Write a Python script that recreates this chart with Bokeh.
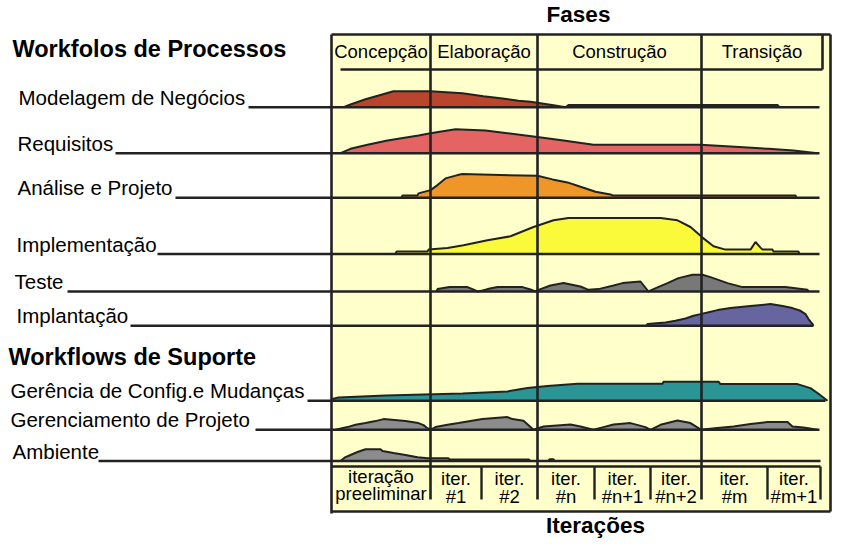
from bokeh.plotting import figure
from bokeh.models import Range1d
from bokeh.core.properties import value
from bokeh.embed import file_html
from bokeh.resources import INLINE

# ------------------------------------------------------------------ data
title_top = "Fases"
title_bottom = "Iterações"
header_process = "Workfolos de Processos"
header_support = "Workflows de Suporte"

phase_names = ["Concepção", "Elaboração", "Construção", "Transição"]
phase_bounds = [331, 430, 537, 701, 830]          # time axis

iter_line1 = ["iteração", "iter.", "iter.", "iter.", "iter.", "iter.", "iter.", "iter."]
iter_line2 = ["preeliminar", "#1", "#2", "#n", "#n+1", "#n+2", "#m", "#m+1"]
iter_bounds = [331, 430, 481, 537, 594, 650, 701, 767, 820]

workflow_names = ["Modelagem de Negócios", "Requisitos", "Análise e Projeto",
                  "Implementação", "Teste", "Implantação",
                  "Gerência de Config.e Mudanças", "Gerenciamento de Projeto", "Ambiente"]

modelagem_t = [343, 350, 365, 393, 430, 462, 483, 500, 518, 530, 553, 565, 568, 777, 779]
modelagem_h = [0, 2.7, 8, 16, 16, 14, 11, 9, 6.4, 5.4, 2, 0, 2.2, 2.2, 0]

requisitos_t = [340, 350, 367, 387, 418, 430, 455, 485, 507, 533, 563, 593, 700, 743, 768, 793, 817]
requisitos_h = [0, 4.4, 8.4, 12.7, 17.7, 20, 24, 22.7, 20, 16.7, 12.7, 8.4, 8.4, 6, 4.4, 2.7, 0]

analise_t = [401, 402, 417, 418, 430, 437, 445, 457, 462, 537, 552, 567, 580, 595, 610, 612, 795, 796]
analise_h = [0, 2.4, 2.4, 4.4, 7.7, 12.7, 19.4, 22.7, 23.7, 22, 18.4, 15.4, 11, 6, 3.4, 2.4, 2.4, 0]

implementacao_t = [395, 396, 427, 428, 447, 463, 487, 510, 533, 553, 568, 660, 677, 690, 702,
                   713, 725, 750, 755, 760, 762, 772, 773, 798, 799]
implementacao_h = [0, 2.4, 2.4, 4.4, 6, 8.7, 13.7, 17.7, 27, 33.7, 36, 36, 33.7, 27, 16.4,
                   7.7, 4.4, 4.4, 12, 6.4, 4.4, 4.4, 2.4, 2.4, 0]

teste_t = [436, 437, 449, 467, 472, 477, 482, 487, 497, 522, 530, 535, 540, 550, 563, 580, 588,
           598, 613, 622, 640, 648, 653, 667, 678, 692, 702, 710, 727, 742, 785, 807, 808]
teste_h = [0, 2.4, 4.4, 4.4, 2.4, 0, 1, 2.4, 4.4, 4.4, 2, 0, 2.4, 6, 8.4, 5, 1.7,
           2.4, 6, 8.4, 10, 0, 2.4, 8.4, 13.4, 16.7, 16.7, 14.4, 8.4, 4.4, 4.4, 1.7, 0]

implantacao_t = [646, 647, 665, 675, 685, 693, 700, 707, 717, 730, 750, 770, 782, 792, 800, 805, 808, 812, 813]
implantacao_h = [0, 1.7, 3.3, 5, 7.3, 10, 11.7, 13.3, 15.7, 17.7, 19.7, 21.7, 19.7, 17.7, 15, 11.7, 6.7, 1.7, 0]

gerencia_t = [331, 332, 338, 385, 462, 507, 527, 547, 577, 662, 663, 718, 720, 797, 810, 818, 827]
gerencia_h = [0, 1.7, 3.3, 5.3, 7.3, 9.3, 12.6, 14.6, 17, 17, 19, 19, 16.6, 16.6, 12.6, 7, 0]

gerenciamento_t = [335, 347, 355, 365, 375, 383, 405, 418, 423, 426, 430, 435, 447, 458, 470, 482,
                   507, 512, 523, 533, 543, 570, 580, 593, 603, 613, 630, 645, 650, 660, 677, 690,
                   698, 700, 717, 733, 750, 767, 787, 792, 803, 817]
gerenciamento_h = [0, 2.7, 5, 6.7, 8.7, 10.7, 8.7, 6.7, 4.7, 2.3, 0, 2.7, 5, 6.7, 8.7, 10.7,
                   12.7, 10.7, 9, 0, 3.3, 5.3, 3.3, 0, 2.7, 5.3, 6.7, 2.7, 0, 5, 9.3, 6.7,
                   1.7, 0, 1.7, 3.3, 5.7, 7.7, 7.7, 3.3, 2.3, 0]

ambiente_t = [340, 344, 350, 357, 365, 380, 382, 393, 405, 417, 427, 448, 449, 528, 530, 548, 549, 553, 554]
ambiente_h = [0, 3.3, 6, 9, 11.7, 11.7, 10, 8, 6, 3.7, 2.7, 2.7, 1.6, 1.6, 0, 0, 1.8, 1.8, 0]

workflow_t = [modelagem_t, requisitos_t, analise_t, implementacao_t, teste_t,
              implantacao_t, gerencia_t, gerenciamento_t, ambiente_t]
workflow_h = [modelagem_h, requisitos_h, analise_h, implementacao_h, teste_h,
              implantacao_h, gerencia_h, gerenciamento_h, ambiente_h]

# ------------------------------------------------------------------ style / layout
colors = ["#B8452C", "#E46464", "#EF9629", "#FAFA3A", "#787878",
          "#66659F", "#2B9494", "#8C8C8C", "#8C8C8C"]
row_y = [106.7, 152.7, 197.3, 253.5, 291.0, 325.3, 400.2, 429.3, 460.5]
label_x = [18, 17, 17, 16, 14, 16, 10, 10, 12]
under_x0 = [248, 115, 175, 157, 67, 130, 307, 255, 98]
under_x1 = [819, 819, 819, 819, 819, 813, 825, 819, 820]

INK = "#222222"
PAPER = "#FFFFCC"
FONT = value("Liberation Sans")
SHIFT = 0.36   # em fraction: lift text so its baseline sits where the reference has it

BOX_TOP, BOX_BOTTOM = 34, 511
HEAD_BOTTOM, HEAD_RIGHT = 69, 822
ITER_TOP, ITER_SEP_BOTTOM = 466, 499

W, H = 857, 553
p = figure(width=W, height=H, x_range=Range1d(0, W), y_range=Range1d(H, 0),
           output_backend="svg", toolbar_location=None, min_border=0,
           x_axis_location=None, y_axis_location=None)
p.xgrid.visible = False
p.ygrid.visible = False
p.outline_line_color = None
p.background_fill_color = "white"
p.border_fill_color = "white"


def txt(xs, ys, texts, size, bold=False, align="left"):
    p.text(x=xs, y=[y - SHIFT * size for y in ys], text=texts, text_font=FONT,
           text_font_size=value(f"{size}px"), text_font_style="bold" if bold else "normal",
           text_align=align, text_baseline="alphabetic", text_color="black")


left, right = phase_bounds[0], phase_bounds[-1]
# yellow paper
p.quad(left=[left], right=[right], top=[BOX_TOP], bottom=[BOX_BOTTOM],
       fill_color=PAPER, line_color=None)

# humps
for t, h, c, y0 in zip(workflow_t, workflow_h, colors, row_y):
    ys = [y0 - v for v in h]
    p.patch([t[0]] + t + [t[-1]], [y0] + ys + [y0], fill_color=c, line_color=None)
    p.line(t, ys, line_color=INK, line_width=2)

# baselines (underscores)
p.segment(x0=under_x0, x1=under_x1, y0=row_y, y1=row_y, line_color=INK, line_width=2.6)

# box frame
p.segment(x0=[left, left, left, HEAD_RIGHT, right, left + 9],
          x1=[right, right, left, HEAD_RIGHT, right, HEAD_RIGHT],
          y0=[BOX_TOP, BOX_BOTTOM, BOX_TOP, BOX_TOP, BOX_TOP, HEAD_BOTTOM],
          y1=[BOX_TOP, BOX_BOTTOM, BOX_BOTTOM + 2, HEAD_BOTTOM, BOX_BOTTOM, HEAD_BOTTOM],
          line_color=INK, line_width=2.6)
# iteration box top
p.segment(x0=[left], x1=[iter_bounds[-1]], y0=[ITER_TOP], y1=[ITER_TOP],
          line_color=INK, line_width=2.4)
# phase lines
inner_phase = phase_bounds[1:-1]
p.segment(x0=inner_phase, x1=inner_phase, y0=[BOX_TOP] * len(inner_phase),
          y1=[ITER_SEP_BOTTOM] * len(inner_phase), line_color=INK, line_width=2.6)
# iteration separators
seps = [b for b in iter_bounds[1:] if b not in phase_bounds]
p.segment(x0=seps, x1=seps, y0=[ITER_TOP] * len(seps), y1=[ITER_SEP_BOTTOM] * len(seps),
          line_color=INK, line_width=2.4)

# texts
txt([578], [22], [title_top], 22.5, bold=True, align="center")
txt([595], [533], [title_bottom], 22.5, bold=True, align="center")
txt([12, 8], [57, 365], [header_process, header_support], 23.5, bold=True)
txt(label_x, [y - 2.6 for y in row_y], workflow_names, 20.5)

phase_cx = [(phase_bounds[i] + (phase_bounds[i + 1] if i < 3 else HEAD_RIGHT)) / 2 for i in range(4)]
txt(phase_cx, [58] * 4, phase_names, 18.5, align="center")

iter_cx = [(iter_bounds[i] + iter_bounds[i + 1]) / 2 for i in range(len(iter_line1))]
y1s = [483] + [485] * (len(iter_line1) - 1)
y2s = [499.5] + [503] * (len(iter_line2) - 1)
txt(iter_cx, y1s, iter_line1, 18.5, align="center")
txt(iter_cx, y2s, iter_line2, 18.5, align="center")

open("out.html", "w").write(file_html(p, INLINE))
